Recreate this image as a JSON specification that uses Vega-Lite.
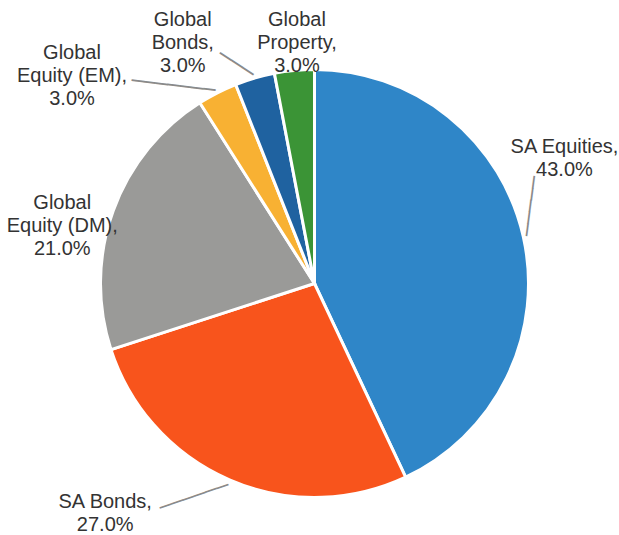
{
  "$schema": "https://vega.github.io/schema/vega-lite/v6.json",
  "width": 609,
  "height": 503,
  "autosize": {"type": "none"},
  "padding": {"left": 10, "right": 0, "top": 32, "bottom": 0},
  "background": "white",
  "view": {"stroke": null},
  "config": {"text": {"font": "Liberation Sans", "fontSize": 20, "fill": "#333333", "lineHeight": 23, "align": "center", "baseline": "middle", "lineBreak": "\n"}},
  "data": {"values": [
    {"rank": 1, "category": "SA Equities", "value": 43, "label": "SA Equities,\n43.0%"},
    {"rank": 2, "category": "SA Bonds", "value": 27, "label": "SA Bonds,\n27.0%"},
    {"rank": 3, "category": "Global Equity (DM)", "value": 21, "label": "Global\nEquity (DM),\n21.0%"},
    {"rank": 4, "category": "Global Equity (EM)", "value": 3, "label": "Global\nEquity (EM),\n3.0%"},
    {"rank": 5, "category": "Global Bonds", "value": 3, "label": "Global\nBonds,\n3.0%"},
    {"rank": 6, "category": "Global Property", "value": 3, "label": "Global\nProperty,\n3.0%"}
  ]},
  "encoding": {
    "theta": {"field": "value", "type": "quantitative", "stack": true},
    "order": {"field": "rank", "type": "quantitative"},
    "detail": {"field": "category", "type": "nominal"}
  },
  "layer": [
    {
      "mark": {"type": "arc", "outerRadius": 214, "stroke": "white", "strokeWidth": 3},
      "encoding": {
        "color": {"field": "category", "type": "nominal", "legend": null,
          "scale": {"domain": ["SA Equities", "SA Bonds", "Global Equity (DM)", "Global Equity (EM)", "Global Bonds", "Global Property"],
                    "range": ["#2F86C8", "#F8541C", "#9A9A98", "#F8B133", "#1F62A0", "#3B9436"]}}
      }
    },
    {"mark": {"type": "text", "font": "DejaVu Sans Mono", "fontSize": 20, "radius": 218, "angle": -82.5, "align": "left", "baseline": "middle", "fill": "#8a8a8a"},
     "encoding": {"text": {"condition": {"test": "datum.category === 'SA Equities'", "value": "─────"}, "value": ""}}},
    {"mark": {"type": "text", "font": "DejaVu Sans Mono", "fontSize": 20, "radius": 218, "angle": 161, "align": "left", "baseline": "middle", "fill": "#8a8a8a"},
     "encoding": {"text": {"condition": {"test": "datum.category === 'SA Bonds'", "value": "──────"}, "value": ""}}},
    {"mark": {"type": "text", "font": "DejaVu Sans Mono", "fontSize": 20, "radius": 218, "angle": 186.7, "align": "left", "baseline": "middle", "fill": "#8a8a8a"},
     "encoding": {"text": {"condition": {"test": "datum.category === 'Global Equity (EM)'", "value": "───────"}, "value": ""}}},
    {"mark": {"type": "text", "font": "DejaVu Sans Mono", "fontSize": 22, "radius": 218, "angle": -147, "align": "left", "baseline": "middle", "fill": "#8a8a8a"},
     "encoding": {"text": {"condition": {"test": "datum.category === 'Global Bonds'", "value": "───"}, "value": ""}}},
    {"mark": {"type": "text", "radius": 250, "dx": 6, "dy": -82},
     "encoding": {"text": {"condition": {"test": "datum.category === 'SA Equities'", "field": "label"}, "value": ""}}},
    {"mark": {"type": "text", "radius": 250, "dx": -110, "dy": -11},
     "encoding": {"text": {"condition": {"test": "datum.category === 'SA Bonds'", "field": "label"}, "value": ""}}},
    {"mark": {"type": "text", "radius": 250, "dx": -17, "dy": 4},
     "encoding": {"text": {"condition": {"test": "datum.category === 'Global Equity (DM)'", "field": "label"}, "value": ""}}},
    {"mark": {"type": "text", "radius": 250, "dx": -129, "dy": -8},
     "encoding": {"text": {"condition": {"test": "datum.category === 'Global Equity (EM)'", "field": "label"}, "value": ""}}},
    {"mark": {"type": "text", "radius": 250, "dx": -62, "dy": -23},
     "encoding": {"text": {"condition": {"test": "datum.category === 'Global Bonds'", "field": "label"}, "value": ""}}},
    {"mark": {"type": "text", "radius": 250, "dx": 6, "dy": -15},
     "encoding": {"text": {"condition": {"test": "datum.category === 'Global Property'", "field": "label"}, "value": ""}}}
  ]
}
